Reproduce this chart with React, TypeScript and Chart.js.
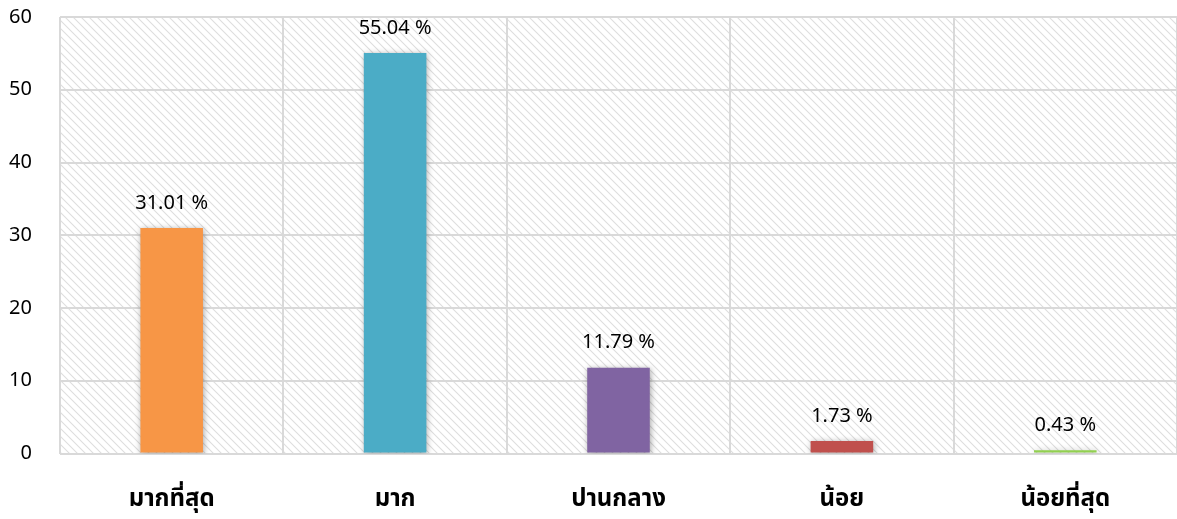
import React, { useEffect, useRef } from "react";
import { Chart, registerables } from "chart.js";

Chart.register(...registerables);

const categories = ["มากที่สุด", "มาก", "ปานกลาง", "น้อย", "น้อยที่สุด"];
const percentValues = [31.01, 55.04, 11.79, 1.73, 0.43];
const barColors = ["#F79646", "#4BACC6", "#8064A2", "#C0504D", "#92D050"];
const yTicks = [0, 10, 20, 30, 40, 50, 60];

const FONT = "'Noto Sans', 'Noto Sans Thai', Tahoma, 'DejaVu Sans', sans-serif";

function makePattern(): CanvasPattern | string {
  const c = document.createElement("canvas");
  c.width = 8;
  c.height = 8;
  const g = c.getContext("2d");
  if (!g) return "#f0f0f0";
  g.fillStyle = "#ffffff";
  g.fillRect(0, 0, 8, 8);
  g.strokeStyle = "#dedede";
  g.lineWidth = 1.1;
  g.beginPath();
  g.moveTo(-1, -1);
  g.lineTo(9, 9);
  g.moveTo(-1, 7);
  g.lineTo(1, 9);
  g.moveTo(7, -1);
  g.lineTo(9, 1);
  g.stroke();
  const p = g.createPattern(c, "repeat");
  return p || "#f0f0f0";
}

export default function App() {
  const ref = useRef<HTMLCanvasElement | null>(null);

  useEffect(() => {
    document.body.style.margin = "0";
    const canvas = ref.current;
    if (!canvas) return;
    const pattern = makePattern();

    const bgPlugin = {
      id: "hatchBg",
      beforeDraw(chart: any) {
        const { ctx, chartArea } = chart;
        ctx.save();
        ctx.fillStyle = pattern;
        ctx.fillRect(chartArea.left, chartArea.top, chartArea.right - chartArea.left, chartArea.bottom - chartArea.top);
        ctx.restore();
      },
    };

    const shadowPlugin = {
      id: "barShadow",
      beforeDatasetsDraw(chart: any) {
        const ctx = chart.ctx;
        ctx.save();
        ctx.shadowColor = "rgba(0,0,0,0.35)";
        ctx.shadowBlur = 6;
        ctx.shadowOffsetX = 1;
        ctx.shadowOffsetY = 1;
      },
      afterDatasetsDraw(chart: any) {
        chart.ctx.restore();
      },
    };

    const labelPlugin = {
      id: "valueLabels",
      afterDraw(chart: any) {
        const ctx = chart.ctx;
        const meta = chart.getDatasetMeta(0);
        ctx.save();
        ctx.fillStyle = "#000000";
        ctx.font = `20px ${FONT}`;
        ctx.textAlign = "center";
        ctx.textBaseline = "middle";
        meta.data.forEach((bar: any, i: number) => {
          ctx.fillText(`${percentValues[i].toFixed(2)} %`, bar.x, bar.y - 25);
        });
        ctx.restore();
      },
    };

    const chart = new Chart(canvas, {
      type: "bar",
      data: {
        labels: categories,
        datasets: [
          {
            data: percentValues,
            backgroundColor: barColors,
            borderWidth: 0,
            barPercentage: 0.28,
            categoryPercentage: 1,
          },
        ],
      },
      options: {
        animation: false,
        responsive: true,
        maintainAspectRatio: false,
        layout: { padding: { top: 17, right: 0, left: 0, bottom: 0 } },
        plugins: {
          legend: { display: false },
          tooltip: { enabled: false },
        },
        scales: {
          x: {
            grid: { offset: true, color: "#d9d9d9", lineWidth: 2, drawTicks: false },
            border: { display: false },
            ticks: {
              color: "#000000",
              padding: 31,
              font: { family: FONT, size: 24, weight: "bold" },
            },
            afterFit(s: any) {
              s.height = 65.5;
              s.paddingLeft = 0;
              s.paddingRight = 0;
            },
          },
          y: {
            min: 0,
            max: 60,
            afterBuildTicks(s: any) {
              s.ticks = yTicks.map((v) => ({ value: v }));
            },
            grid: { color: "#d9d9d9", lineWidth: 2, drawTicks: false },
            border: { display: false },
            ticks: {
              color: "#000000",
              padding: 28,
              font: { family: FONT, size: 20 },
            },
            afterFit(s: any) {
              s.width = 60;
              s.paddingTop = 0;
              s.paddingBottom = 0;
            },
          },
        },
      },
      plugins: [bgPlugin, shadowPlugin, labelPlugin],
    });

    return () => chart.destroy();
  }, []);

  return (
    <div style={{ position: "relative", width: 1177, height: 519 }}>
      <canvas ref={ref} />
    </div>
  );
}
